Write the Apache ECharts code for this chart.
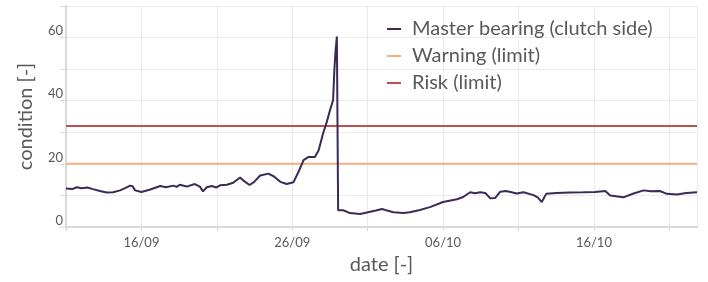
<!DOCTYPE html>
<html>
<head>
<meta charset="utf-8">
<script src="https://cdn.jsdelivr.net/npm/echarts@6/dist/echarts.min.js"></script>
<style>
  html, body { margin: 0; padding: 0; background: #fff; }
  #chart { width: 708px; height: 282px; }
</style>
</head>
<body>
<div id="chart"></div>
<script>
  // data
  const START = '2023-09-11T00:00'
  const END = '2023-10-22T20:00'

  const times = [
    '2023-09-11T00:00', '2023-09-11T10:00', '2023-09-11T17:00', '2023-09-12T01:00', '2023-09-12T10:00',
    '2023-09-12T19:00', '2023-09-13T06:00', '2023-09-13T17:00', '2023-09-14T03:00', '2023-09-14T14:00',
    '2023-09-14T22:00', '2023-09-15T06:00', '2023-09-15T10:00', '2023-09-15T14:00', '2023-09-16T00:00',
    '2023-09-16T14:00', '2023-09-17T06:00', '2023-09-17T15:00', '2023-09-18T03:00', '2023-09-18T08:00',
    '2023-09-18T13:00', '2023-09-19T00:00', '2023-09-19T13:00', '2023-09-19T21:00', '2023-09-20T02:00',
    '2023-09-20T08:00', '2023-09-20T16:00', '2023-09-20T23:00', '2023-09-21T05:00', '2023-09-21T16:00',
    '2023-09-22T02:00', '2023-09-22T13:00', '2023-09-22T19:00', '2023-09-23T04:00', '2023-09-23T11:00',
    '2023-09-23T21:00', '2023-09-24T10:00', '2023-09-24T19:00', '2023-09-25T05:00', '2023-09-25T15:00',
    '2023-09-26T02:00', '2023-09-26T10:00', '2023-09-26T18:00', '2023-09-27T02:00', '2023-09-27T12:00',
    '2023-09-27T18:00', '2023-09-28T01:00', '2023-09-28T07:00', '2023-09-28T12:00', '2023-09-28T17:00',
    '2023-09-28T19:00', '2023-09-28T21:00', '2023-09-28T23:00', '2023-09-29T00:00', '2023-09-29T01:00',
    '2023-09-29T09:00', '2023-09-29T20:00', '2023-09-30T12:00', '2023-10-01T04:00', '2023-10-01T13:00',
    '2023-10-01T23:00', '2023-10-02T07:00', '2023-10-02T17:00', '2023-10-03T09:00', '2023-10-03T19:00',
    '2023-10-04T11:00', '2023-10-05T03:00', '2023-10-06T00:00', '2023-10-06T22:00', '2023-10-07T08:00',
    '2023-10-07T19:00', '2023-10-08T03:00', '2023-10-08T11:00', '2023-10-08T19:00', '2023-10-09T03:00',
    '2023-10-09T11:00', '2023-10-09T19:00', '2023-10-10T04:00', '2023-10-10T13:00', '2023-10-10T21:00',
    '2023-10-11T08:00', '2023-10-12T00:00', '2023-10-12T07:00', '2023-10-12T13:00', '2023-10-12T20:00',
    '2023-10-13T13:00', '2023-10-14T10:00', '2023-10-15T07:00', '2023-10-16T02:00', '2023-10-16T18:00',
    '2023-10-17T02:00', '2023-10-17T23:00', '2023-10-18T15:00', '2023-10-19T07:00', '2023-10-19T18:00',
    '2023-10-20T09:00', '2023-10-20T20:00', '2023-10-21T12:00', '2023-10-22T03:00', '2023-10-22T20:00'
  ]

  const condition = [
    12.2, 12.0, 12.6, 12.3, 12.5,
    12.0, 11.4, 10.9, 11.0, 11.6,
    12.3, 13.1, 12.9, 11.6, 11.1,
    11.9, 13.0, 12.6, 13.1, 12.7,
    13.4, 12.8, 13.6, 12.8, 11.3,
    12.6, 13.0, 12.5, 13.2, 13.4,
    14.0, 15.7, 14.6, 13.3, 14.2,
    16.3, 16.9, 16.0, 14.3, 13.6,
    14.2, 17.5, 21.2, 22.2, 22.2,
    24.3, 29.6, 33.3, 37.0, 40.2,
    49.7, 56.1, 60.3, 60.5, 5.3,
    5.3, 4.4, 4.1, 4.8, 5.2,
    5.7, 5.2, 4.7, 4.4, 4.7,
    5.4, 6.3, 7.9, 8.8, 9.5,
    11.0, 10.7, 11.0, 10.8, 9.1,
    9.2, 11.2, 11.4, 11.0, 10.6,
    11.0, 10.1, 9.3, 7.9, 10.5,
    10.8, 10.9, 11.0, 11.1, 11.4,
    10.0, 9.4, 10.6, 11.6, 11.3,
    11.4, 10.5, 10.3, 10.8, 11.0
  ]

  const limitTimes = [START, END]
  const warningLimit = [20, 20]
  const riskLimit = [32, 32]

  const DAY = 864e5
  const t0 = Date.parse(START)
  // days since START, used as the x value
  const dayOf = t => (Date.parse(t) - t0) / DAY
  const pairs = (ts, vs) => ts.map((t, i) => [dayOf(t), vs[i]])

  const fmtDay = v => {
    if (Math.round(v / 5) % 2 !== 1) return ''
    const d = new Date(t0 + v * DAY)
    const dd = String(d.getDate()).padStart(2, '0')
    const mm = String(d.getMonth() + 1).padStart(2, '0')
    return dd + '/' + mm
  }

  const FONT = 'Lato'
  const TEXT = '#595959'

  const chart = echarts.init(document.getElementById('chart'))
  chart.setOption({
    animation: false,
    grid: { left: 66, right: 11, top: 6, bottom: 55 },
    legend: {
      orient: 'vertical',
      left: 382,
      top: 14,
      itemGap: 7,
      itemWidth: 14,
      itemHeight: 2,
      icon: 'rect',
      textStyle: { fontFamily: FONT, fontSize: 20, color: TEXT, padding: [0, 0, 0, 6] },
      data: ['Master bearing (clutch side)', 'Warning (limit)', 'Risk (limit)']
    },
    xAxis: {
      type: 'value',
      min: 0,
      max: dayOf(END),
      interval: 5,
      name: 'date [-]',
      nameLocation: 'middle',
      nameGap: 28,
      nameTextStyle: { fontFamily: FONT, fontSize: 20, color: TEXT },
      axisLine: { show: true, lineStyle: { color: '#d9d9d9', width: 2 } },
      axisTick: { show: true, length: 4, lineStyle: { color: '#d9d9d9' } },
      axisLabel: { formatter: fmtDay, fontFamily: FONT, fontSize: 13, color: TEXT, margin: 9, showMaxLabel: false },
      splitLine: { show: true, lineStyle: { color: '#ebebeb', width: 1 } }
    },
    yAxis: {
      type: 'value',
      min: 0,
      max: 70,
      interval: 10,
      name: 'condition [-]',
      nameLocation: 'middle',
      nameGap: 30,
      nameTextStyle: { fontFamily: FONT, fontSize: 20, color: TEXT },
      axisLine: { show: true, lineStyle: { color: '#d9d9d9', width: 2 } },
      axisTick: { show: true, length: 6, lineStyle: { color: '#d9d9d9' } },
      axisLabel: {
        fontFamily: FONT, fontSize: 13, color: TEXT, margin: 3,
        verticalAlign: 'bottom',
        formatter: v => (v % 20 === 0 && v < 70 ? String(v) : '')
      },
      splitLine: { show: true, lineStyle: { color: '#ebebeb', width: 1 } }
    },
    series: [
      {
        name: 'Warning (limit)',
        type: 'line',
        data: pairs(limitTimes, warningLimit),
        showSymbol: false,
        color: '#f4b183',
        lineStyle: { width: 2 }
      },
      {
        name: 'Risk (limit)',
        type: 'line',
        data: pairs(limitTimes, riskLimit),
        showSymbol: false,
        color: '#c0504d',
        lineStyle: { width: 2 }
      },
      {
        name: 'Master bearing (clutch side)',
        type: 'line',
        data: pairs(times, condition),
        showSymbol: false,
        color: '#3b2a56',
        lineStyle: { width: 2 }
      }
    ]
  })
</script>
</body>
</html>
